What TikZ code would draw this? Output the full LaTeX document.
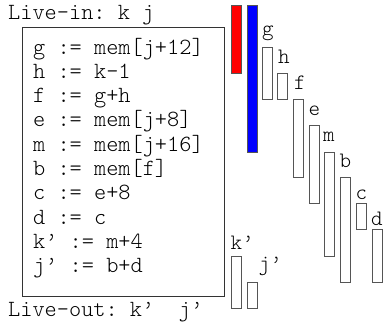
\documentclass[tikz,border=0pt]{standalone}
\usepackage{fontspec}
\setmonofont{Latin Modern Mono Light}
\usepackage{tikz}
\definecolor{livek}{HTML}{FF0000}
\definecolor{livej}{HTML}{0000FF}
\definecolor{barline}{HTML}{555555}
\tikzset{
  codetxt/.style={anchor=base west,inner sep=0pt,font=\ttfamily\fontsize{23.2}{24}\selectfont},
  vartxt/.style={anchor=base west,inner sep=0pt,font=\ttfamily\fontsize{22}{24}\selectfont},
  livebar/.style={draw=barline,line width=0.9pt}
}

\begin{document}
\begin{tikzpicture}[x=1pt,y=-1pt]
    \useasboundingbox (0,0) rectangle (383,322);
    \node[codetxt] (livein) at (8,19) {Live-in: k j};
    \node[codetxt] (liveout) at (8,316) {Live-out: k’\ \ j’};
    \draw[line width=0.9pt,draw=black!80] (22.5,27) rectangle (224,296);
    \foreach \i/\stmt in {0/{g := mem[j+12]}, 1/{h := k-1}, 2/{f := g+h}, 3/{e := mem[j+8]}, 4/{m := mem[j+16]}, 5/{b := mem[f]}, 6/{c := e+8}, 7/{d := c}, 8/{k’ := m+4}, 9/{j’ := b+d}} {
      \node[codetxt] (stmt\i) at (33,{54+24.3*\i}) {\stmt};
    }
    % live ranges of the inputs
    \draw[livebar,fill=livek] (231,5) rectangle (241.5,73);
    \draw[livebar,fill=livej] (247,5) rectangle (257.5,152);
    \foreach \v/\x/\t/\b/\lx/\ly/\lab in {g/262/47/99/262/35.5/g, h/277/73/99/278/63/h, f/293/99/177/294/89/f, e/309/125/203/308.5/115/e, m/324/152/256/323/141/m, b/340/177/282/339.5/167/b, c/356/203/229/355.5/199/c, d/372/229/282/371/225/d, kp/231/256/308/230.5/249/{k’}, jp/247/282/308/258.5/270/{j’}} {
      \draw[livebar] (\x,\t) rectangle ({\x+10.5},\b);
      \node[vartxt] (lab-\v) at (\lx,\ly) {\lab};
    }
  \end{tikzpicture}
\end{document}
